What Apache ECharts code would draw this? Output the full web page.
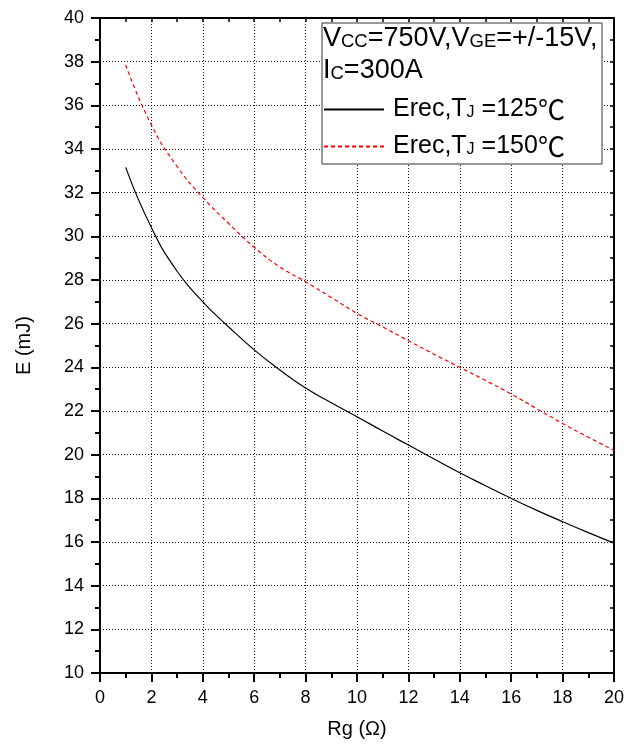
<!DOCTYPE html>
<html>
<head>
<meta charset="utf-8">
<script src="https://cdn.jsdelivr.net/npm/echarts@6/dist/echarts.min.js"></script>
<style>
html,body{margin:0;padding:0;background:#fff;}
#chart{width:637px;height:746px;}
</style>
</head>
<body>
<div id="chart"></div>
<script>
// ---- data ----
const rgValues = [1,2,3,4,5,6,7,8,9,10,11,12,13,14,15,16,17,18,19,20];
const erec125 = [33.16,30.4,28.4,27.0,25.86,24.8,23.88,23.05,22.38,21.74,21.08,20.44,19.8,19.17,18.58,18.0,17.45,16.93,16.43,15.95];
const erec150 = [37.85,35.1,33.2,31.78,30.6,29.5,28.6,27.92,27.2,26.47,25.85,25.22,24.6,24.0,23.4,22.78,22.1,21.43,20.8,20.2];
const seriesNames = ['Erec,TJ =125℃', 'Erec,TJ =150℃'];
const xAxisTitle = 'Rg (Ω)';
const yAxisTitle = 'E (mJ)';
const conditionLine1 = ['V','CC','=750V,V','GE','=+/-15V,'];
const conditionLine2 = ['I','C','=300A'];

const FONT = 'Arial, "Liberation Sans", sans-serif';
const CJK = '"Noto Sans CJK JP", "Noto Sans CJK SC", sans-serif';

function pairs(xs, ys){ return xs.map((x,i)=>[x, ys[i]]); }

const chart = echarts.init(document.getElementById('chart'), null, {renderer:'canvas'});

const baseAxis = {
  axisLine:{show:true, onZero:false, lineStyle:{color:'#000', width:2}},
  axisTick:{show:true, inside:false, length:9, lineStyle:{color:'#000', width:2}},
  minorTick:{show:true, splitNumber:2, length:5, lineStyle:{color:'#000', width:2}},
  axisLabel:{color:'#000', fontSize:18, fontFamily:FONT, margin:16},
  splitLine:{show:true, lineStyle:{color:'#111', width:1, type:[1,2]}},
  nameTextStyle:{color:'#000', fontSize:20, fontFamily:FONT}
};
const frameAxis = {
  axisLine:{show:true, onZero:false, lineStyle:{color:'#000', width:2}},
  axisTick:{show:true, inside:true, length:4, lineStyle:{color:'#000', width:1.5}},
  minorTick:{show:true, splitNumber:2, length:4, lineStyle:{color:'#000', width:1.5}},
  axisLabel:{show:false},
  splitLine:{show:false}
};

function header(parts){
  let s = '';
  parts.forEach((p,i)=>{ s += (i%2===0 ? '{m|' : '{s|') + p + '}'; });
  return s;
}
const headerRich = {
  m:{fontSize:27, fontFamily:FONT, lineHeight:30, fill:'#000'},
  s:{fontSize:18.5, fontFamily:FONT, lineHeight:20, padding:[6,0,0,0], fill:'#000'}
};

const option = {
  animation:false,
  backgroundColor:'#fff',
  grid:{left:100, right:23, top:18, bottom:73, containLabel:false},
  xAxis:[
    Object.assign({}, baseAxis, {type:'value', min:0, max:20, interval:2, position:'bottom',
      name:xAxisTitle, nameLocation:'middle', nameGap:46}),
    Object.assign({}, frameAxis, {type:'value', min:0, max:20, interval:2, position:'top'})
  ],
  yAxis:[
    Object.assign({}, baseAxis, {type:'value', min:10, max:40, interval:2, position:'left',
      name:yAxisTitle, nameLocation:'middle', nameGap:66}),
    Object.assign({}, frameAxis, {type:'value', min:10, max:40, interval:2, position:'right'})
  ],
  legend:{
    show:true, orient:'vertical', left:323, top:96, padding:0,
    itemWidth:60, itemHeight:14, itemGap:10, z:6,
    data:seriesNames,
    itemStyle:{color:'rgba(0,0,0,0)', borderColor:'rgba(0,0,0,0)', borderWidth:0, opacity:0},
    formatter:function(name){
      const m = name.match(/^(Erec,T)(J)( =\d+)(℃)$/);
      if(!m) return name;
      return '{m|'+m[1]+'}{s|'+m[2]+'}{m|'+m[3]+'}{c|'+m[4]+'}';
    },
    textStyle:{
      color:'#000', fontFamily:FONT, fontSize:25, padding:[0,0,0,4],
      rich:{
        m:{fontSize:25, fontFamily:FONT, color:'#000', lineHeight:28},
        s:{fontSize:16, fontFamily:FONT, color:'#000', lineHeight:18, padding:[6,0,0,0]},
        c:{fontSize:27, fontFamily:CJK, color:'#000', lineHeight:28}
      }
    }
  },
  graphic:[
    {type:'rect', z:5, shape:{x:322, y:23, width:280, height:141},
     style:{fill:'#fff', stroke:'#333', lineWidth:1}},
    {type:'text', z:7, left:323, top:25,
     style:{text:header(conditionLine1), fill:'#000', rich:headerRich}},
    {type:'text', z:7, left:323, top:57,
     style:{text:header(conditionLine2), fill:'#000', rich:headerRich}}
  ],
  series:[
    {name:seriesNames[0], type:'line', xAxisIndex:0, yAxisIndex:0, smooth:true, symbol:'none',
     data:pairs(rgValues, erec125), z:3,
     lineStyle:{color:'#000', width:1.2, type:'solid'}, itemStyle:{color:'#000'}},
    {name:seriesNames[1], type:'line', xAxisIndex:0, yAxisIndex:0, smooth:true, symbol:'none',
     data:pairs(rgValues, erec150), z:3,
     lineStyle:{color:'#ff0000', width:1.2, type:[4,3]}, itemStyle:{color:'#ff0000'}}
  ]
};
chart.setOption(option);
</script>
</body>
</html>
